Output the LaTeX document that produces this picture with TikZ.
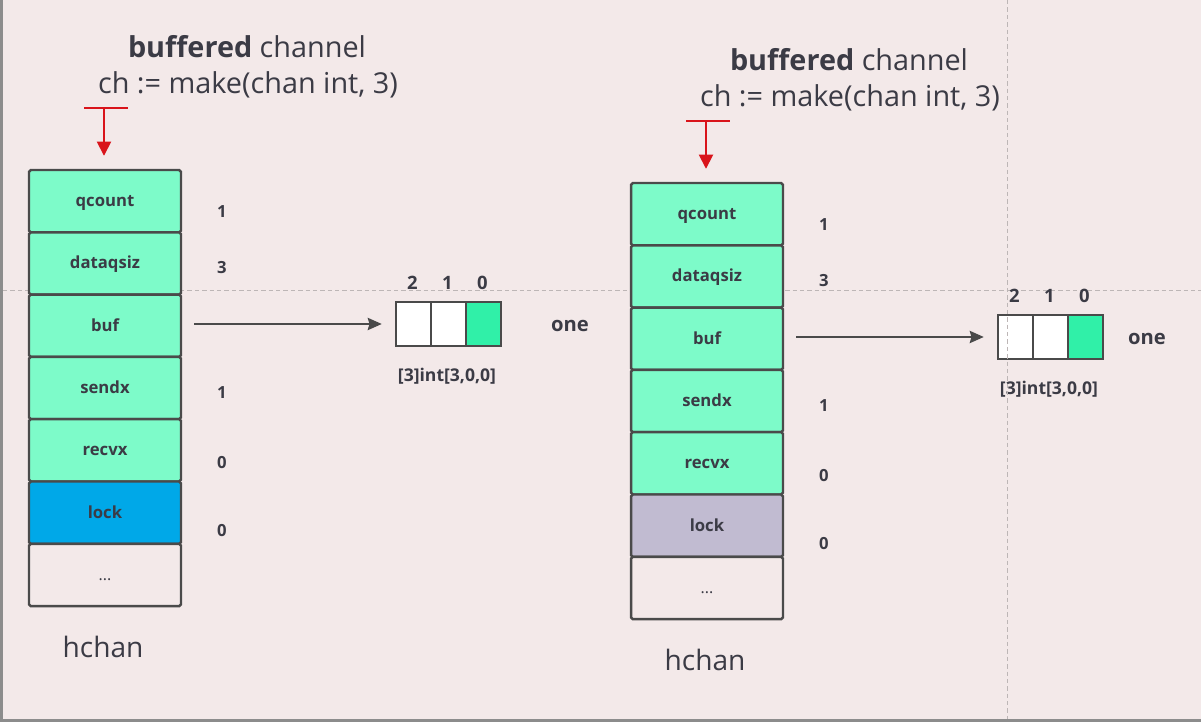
\documentclass[tikz,border=0pt]{standalone}
\usepackage{fontspec}
\setmainfont{Open Sans}
\usetikzlibrary{arrows.meta,calc,positioning}
\definecolor{bgpink}{HTML}{F3E9E9}
\definecolor{rowgreen}{HTML}{7DFBC9}
\definecolor{cellgreen}{HTML}{30F0A8}
\definecolor{lockblue}{HTML}{00A8E8}
\definecolor{lockgray}{HTML}{C1BBD1}
\definecolor{boxline}{HTML}{4A4A4A}
\definecolor{inkgray}{HTML}{3B3B45}
\definecolor{markred}{HTML}{D9141B}
\definecolor{guidegray}{HTML}{BDB6B6}
\tikzset{
 field/.style={draw=boxline,line width=1.4pt,rounded corners=1pt,minimum width=3.04cm,minimum height=1.246cm,inner sep=0pt,text height=1.45ex,text depth=.3ex,font=\fontsize{9.5}{11}\selectfont\bfseries,text=inkgray},
 cellbox/.style={draw=boxline,line width=1.4pt,minimum width=.7cm,minimum height=.88cm,inner sep=0pt},
 val/.style={font=\fontsize{9.5}{11}\selectfont\bfseries,text=inkgray},
 title/.style={font=\fontsize{16.4}{19}\selectfont,text=inkgray},
 ptr/.style={draw=boxline,line width=1.1pt,-{Stealth[length=8pt,width=7pt,inset=1pt]}},
 redbar/.style={draw=markred,line width=1.6pt},
 redptr/.style={draw=markred,line width=1pt,-{Triangle[length=8pt,width=8pt]}},
 guide/.style={draw=guidegray,line width=.5pt,dash pattern=on 2.5pt off 1.7pt}
}
\begin{document}
\begin{tikzpicture}[x=.02cm,y=-.02cm]
\useasboundingbox (0,0) rectangle (1201,722);
\fill[bgpink] (0,0) rectangle (1201,722);
% guide lines of the screen
\draw[guide] (3,290) -- (1201,290);
\foreach \p/\dx/\dy/\lk/\ox in {a/0/0/lockblue/570,b/602/13/lockgray/545}{
 \begin{scope}[shift={(\dx,\dy)}]
 \node[title] (\p-title) at (247,47) {\textbf{buffered} channel};
 \node[title] (\p-code) at (248,85) {ch := make(chan int, 3)};
 % fields of hchan
 \foreach \n/\t/\c [count=\k from 0] in {qcount/qcount/rowgreen,dataqsiz/dataqsiz/rowgreen,buf/buf/rowgreen,sendx/sendx/rowgreen,recvx/recvx/rowgreen,lock/lock/\lk,etc/{\mdseries\small...}/bgpink}
  \node[field,fill=\c] (\p-\n) at (105,201.15+62.3*\k) {\t};
 \foreach \n/\v/\y in {qcount/1/212,dataqsiz/3/268,sendx/1/393,recvx/0/463,lock/0/531}
  \node[val] (\p-v-\n) at (222,\y) {\v};
 \node[title,font=\fontsize{16}{19}\selectfont] (\p-name) at (103,647) {hchan};
 % red marker
 \coordinate (\p-tl) at (84,108);
 \coordinate (\p-tr) at (128,108);
 \coordinate (\p-tm) at (104,108);
 \draw[redbar] (\p-tl) -- (\p-tr);
 \draw[redptr,shorten >=.26cm] (\p-tm) -- (\p-tm |- \p-qcount.north);
 % the buffer array
 \foreach \i/\x/\f in {2/413.5/white,1/448.5/white,0/483.5/cellgreen}{
  \node[cellbox,fill=\f] (\p-c\i) at (\x,324) {};
  \node[val,font=\fontsize{10.5}{12}\selectfont\bfseries] (\p-i\i) at (\x-1,283) {\i};
 }
 \node[val,font=\fontsize{11.5}{13}\selectfont\bfseries] (\p-one) at (\ox,326) {one};
 \node[val,font=\fontsize{10}{12}\selectfont\bfseries] (\p-type) at (447,376) {[3]int[3,0,0]};
 \draw[ptr,shorten <=.24cm,shorten >=.26cm] (\p-buf.east |- \p-c2.west) -- (\p-c2.west);
 \end{scope}
}
\draw[guide] (1007,0) -- (1007,719);
% screen frame
\fill[black!45] (0,0) rectangle (3,722);
\fill[black!45] (0,719.5) rectangle (1201,722);
\end{tikzpicture}
\end{document}
